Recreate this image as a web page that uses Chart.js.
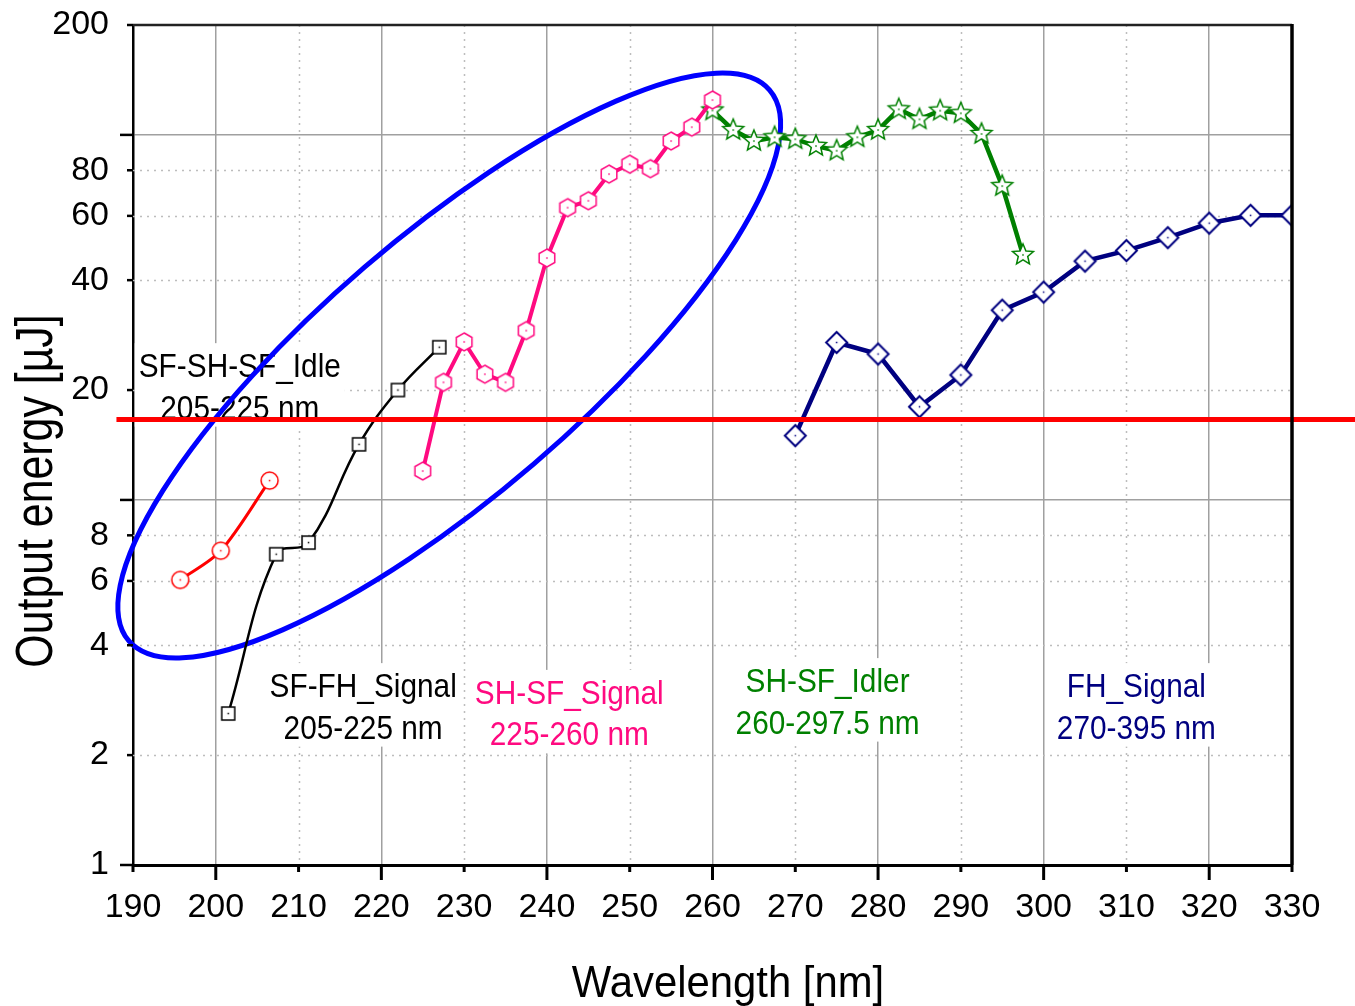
<!DOCTYPE html>
<html>
<head>
<meta charset="utf-8">
<script src="https://cdn.jsdelivr.net/npm/chart.js@4.4.0/dist/chart.umd.min.js"></script>
<style>
  html, body { margin: 0; padding: 0; background: #fff; }
  #wrap { width: 1355px; height: 1006px; position: relative; }
</style>
</head>
<body>
<div id="wrap"><canvas id="chart"></canvas></div>
<script>
// wavelength in nm, output energy in µJ
const idleX = [195.7, 200.6, 206.5];
const idleY = [6.04, 7.26, 11.3];

const fhSfX = [201.5, 207.3, 211.2, 217.3, 222.0, 227.0];
const fhSfY = [2.6, 7.1, 7.64, 14.2, 20.0, 26.2];

const shSignalX = [225, 227.5, 230, 232.5, 235, 237.5, 240, 242.5, 245, 247.5, 250, 252.5, 255, 257.5, 260];
const shSignalY = [12.0, 21.0, 27.1, 22.1, 21.0, 29.1, 46.0, 63.2, 66.0, 78.1, 83.1, 80.8, 96.2, 105, 124.6];

const shIdlerX = [260, 262.5, 265, 267.5, 270, 272.5, 275, 277.5, 280, 282.5, 285, 287.5, 290, 292.5, 295, 297.5];
const shIdlerY = [116.7, 103.1, 96.2, 98.5, 97.3, 93.2, 90.5, 98.5, 103.1, 117.5, 110.3, 116.5, 114.6, 100.6, 72.4, 46.9];

const fhSignalX = [270, 275, 280, 285, 290, 295, 300, 305, 310, 315, 320, 325, 330];
const fhSignalY = [15.0, 27.0, 25.1, 18.0, 22.0, 33.1, 37.1, 45.1, 48.2, 52.3, 57.3, 60.2, 60.2];

// red threshold line
const limitX = [188, 338];
const limitY = [16.6, 16.6];

// blue ellipse: centre, end of major axis, end of minor axis (data units)
const ellipseCenter = [228.2, 23.35];
const ellipseMajorEnd = [266.9, 132.7];
const ellipseMinorEnd = [218.0, 43.5];

const yTicks = [1, 2, 4, 6, 8, 10, 20, 40, 60, 80, 100, 200];
const yTickLabels = ["1", "2", "4", "6", "8", "", "20", "40", "60", "80", "", "200"];
const yLongTicks = [1, 10, 100];
const ySolidGrid = [10, 100];
const yDottedGrid = [2, 4, 6, 8, 20, 40, 60, 80];
const xSolidGrid = [200, 220, 240, 260, 280, 300, 320];
const xDottedGrid = [210, 230, 250, 270, 290, 310];

const labelLines = [
  ["SF-SH-SF_Idle", "205-225 nm"],
  ["SF-FH_Signal", "205-225 nm"],
  ["SH-SF_Signal", "225-260 nm"],
  ["SH-SF_Idler", "260-297.5 nm"],
  ["FH_Signal", "270-395 nm"],
];
const labelAnchors = [[202.9, 23.4], [217.8, 3.11], [242.7, 2.98], [273.9, 3.21], [311.2, 3.11]];

const RED = "#ff0000";
const PINK = "#ff0a80";
const GREEN = "#008000";
const NAVY = "#000080";
const labelColors = ["#000", "#000", PINK, GREEN, NAVY];

const FONT = '"Liberation Sans", Arial, sans-serif';
const SQUEEZE = 0.89;
const LINE_GAP = 41.5;

function pts(xs, ys) {
  return xs.map((x, i) => ({ x, y: ys[i] }));
}

// hollow marker with a small dot in the middle
function makeMarker(shape, r, color, lw) {
  const size = Math.ceil(2 * r + lw + 4);
  const c = document.createElement("canvas");
  c.width = size;
  c.height = size;
  const g = c.getContext("2d");
  const m = size / 2;
  g.beginPath();
  if (shape === "circle") {
    g.arc(m, m, r, 0, Math.PI * 2);
  } else if (shape === "square") {
    g.rect(m - r, m - r, 2 * r, 2 * r);
  } else if (shape === "diamond") {
    g.moveTo(m, m - r);
    g.lineTo(m + r, m);
    g.lineTo(m, m + r);
    g.lineTo(m - r, m);
    g.closePath();
  } else if (shape === "hexagon") {
    for (let i = 0; i < 6; i++) {
      const a = -Math.PI / 2 + (i * Math.PI) / 3;
      const px = m + r * Math.cos(a), py = m + r * Math.sin(a);
      i ? g.lineTo(px, py) : g.moveTo(px, py);
    }
    g.closePath();
  } else if (shape === "star") {
    for (let i = 0; i < 10; i++) {
      const rr = i % 2 ? r * 0.45 : r;
      const a = -Math.PI / 2 + (i * Math.PI) / 5;
      const px = m + rr * Math.cos(a), py = m + rr * Math.sin(a);
      i ? g.lineTo(px, py) : g.moveTo(px, py);
    }
    g.closePath();
  }
  g.fillStyle = "#fff";
  g.fill();
  g.lineWidth = lw;
  g.strokeStyle = color;
  g.stroke();
  g.fillStyle = color;
  g.fillRect(m - 0.75, m - 0.75, 1.5, 1.5);
  return c;
}

function drawText(ctx, text, x, y, font, color, squeeze, rotate) {
  ctx.save();
  ctx.translate(x, y);
  if (rotate) ctx.rotate(rotate);
  ctx.scale(squeeze, 1);
  ctx.font = font;
  ctx.fillStyle = color;
  ctx.textAlign = "center";
  ctx.textBaseline = "alphabetic";
  ctx.fillText(text, 0, 0);
  ctx.restore();
}

const overlay = {
  id: "overlay",
  beforeDatasetsDraw(chart) {
    const { ctx, chartArea: a } = chart;
    const xs = chart.scales.x, ys = chart.scales.y;

    // dotted grid
    ctx.save();
    ctx.strokeStyle = "#bdbdbd";
    ctx.lineWidth = 1.5;
    ctx.setLineDash([2, 5]);
    yDottedGrid.forEach((v) => {
      const p = Math.round(ys.getPixelForValue(v)) + 0.5;
      ctx.beginPath();
      ctx.moveTo(a.left, p);
      ctx.lineTo(a.right, p);
      ctx.stroke();
    });
    xDottedGrid.forEach((v) => {
      const p = Math.round(xs.getPixelForValue(v)) + 0.5;
      ctx.beginPath();
      ctx.moveTo(p, a.top);
      ctx.lineTo(p, a.bottom);
      ctx.stroke();
    });
    ctx.restore();

    // series labels on white boxes
    const font = "33.5px " + FONT;
    labelLines.forEach((lines, k) => {
      const cx = xs.getPixelForValue(labelAnchors[k][0]);
      const cy = ys.getPixelForValue(labelAnchors[k][1]);
      ctx.save();
      ctx.font = font;
      const w = Math.max(...lines.map((t) => ctx.measureText(t).width)) * SQUEEZE + 8;
      const top = cy - 22;
      const bottom = cy + (lines.length - 1) * LINE_GAP + 20;
      ctx.fillStyle = "#fff";
      ctx.fillRect(cx - w / 2, top, w, bottom - top);
      ctx.restore();
      lines.forEach((t, i) => {
        drawText(ctx, t, cx, cy + i * LINE_GAP + 12, font, labelColors[k], SQUEEZE, 0);
      });
    });

    // blue ellipse
    const c = [xs.getPixelForValue(ellipseCenter[0]), ys.getPixelForValue(ellipseCenter[1])];
    const ma = [xs.getPixelForValue(ellipseMajorEnd[0]), ys.getPixelForValue(ellipseMajorEnd[1])];
    const mi = [xs.getPixelForValue(ellipseMinorEnd[0]), ys.getPixelForValue(ellipseMinorEnd[1])];
    const ra = Math.hypot(ma[0] - c[0], ma[1] - c[1]);
    const rb = Math.hypot(mi[0] - c[0], mi[1] - c[1]);
    const rot = Math.atan2(ma[1] - c[1], ma[0] - c[0]);
    ctx.save();
    ctx.beginPath();
    ctx.ellipse(c[0], c[1], ra, rb, rot, 0, Math.PI * 2);
    ctx.strokeStyle = "#0000ff";
    ctx.lineWidth = 5;
    ctx.stroke();
    ctx.restore();
  },
  afterDraw(chart) {
    const { ctx, chartArea: a } = chart;
    const xs = chart.scales.x, ys = chart.scales.y;
    ctx.save();
    // top and right frame
    ctx.strokeStyle = "#222";
    ctx.lineWidth = 2.5;
    ctx.beginPath();
    ctx.moveTo(a.left, a.top);
    ctx.lineTo(a.right, a.top);
    ctx.stroke();
    ctx.strokeStyle = "#000";
    ctx.lineWidth = 3.5;
    ctx.beginPath();
    ctx.moveTo(a.right, a.top - 1);
    ctx.lineTo(a.right, a.bottom);
    ctx.stroke();

    // tick marks
    ctx.lineWidth = 2.5;
    yTicks.forEach((v) => {
      const p = ys.getPixelForValue(v);
      const len = yLongTicks.includes(v) ? 13 : 6;
      ctx.beginPath();
      ctx.moveTo(a.left - len, p);
      ctx.lineTo(a.left, p);
      ctx.stroke();
    });
    ctx.lineWidth = 3;
    for (let v = 190; v <= 330; v += 10) {
      const p = xs.getPixelForValue(v);
      const len = xSolidGrid.includes(v) ? 15 : 7;
      ctx.beginPath();
      ctx.moveTo(p, a.bottom);
      ctx.lineTo(p, a.bottom + len);
      ctx.stroke();
    }
    ctx.restore();

    // axis titles
    drawText(ctx, "Wavelength [nm]", 728, 997, "45px " + FONT, "#000", 0.93, 0);
    drawText(ctx, "Output energy [\u00b5J]", 52, 491, "51px " + FONT, "#000", 0.84, -Math.PI / 2);
  },
};

const ctx = document.getElementById("chart").getContext("2d");

new Chart(ctx, {
  type: "line",
  data: {
    datasets: [
      {
        label: "threshold",
        data: pts(limitX, limitY),
        borderColor: RED,
        borderWidth: 5,
        pointRadius: 0,
        clip: false,
        order: 0,
      },
      {
        label: "SF-SH-SF_Idle",
        data: pts(idleX, idleY),
        borderColor: RED,
        borderWidth: 3,
        tension: 0.3,
        pointStyle: makeMarker("circle", 8.5, RED, 1.5),
        order: 1,
      },
      {
        label: "SF-FH_Signal",
        data: pts(fhSfX, fhSfY),
        borderColor: "#000",
        borderWidth: 2.5,
        tension: 0.4,
        pointStyle: makeMarker("square", 6.5, "#000", 1.5),
        order: 2,
      },
      {
        label: "SH-SF_Signal",
        data: pts(shSignalX, shSignalY),
        borderColor: PINK,
        borderWidth: 4,
        pointStyle: makeMarker("hexagon", 9, PINK, 1.5),
        order: 3,
      },
      {
        label: "SH-SF_Idler",
        data: pts(shIdlerX, shIdlerY),
        borderColor: GREEN,
        borderWidth: 4.5,
        pointStyle: makeMarker("star", 11, GREEN, 1.5),
        order: 4,
      },
      {
        label: "FH_Signal",
        data: pts(fhSignalX, fhSignalY),
        borderColor: NAVY,
        borderWidth: 4.5,
        pointStyle: makeMarker("diamond", 10.5, NAVY, 2),
        order: 5,
      },
    ],
  },
  options: {
    responsive: true,
    maintainAspectRatio: false,
    animation: false,
    layout: { padding: { left: 0, top: 25, right: 63, bottom: 0 } },
    plugins: { legend: { display: false }, tooltip: { enabled: false } },
    scales: {
      x: {
        type: "linear",
        min: 190,
        max: 330,
        afterFit: (s) => {
          s.height = 141;
          s.paddingLeft = 0;
          s.paddingRight = 0;
        },
        ticks: {
          stepSize: 10,
          autoSkip: false,
          maxRotation: 0,
          padding: 22,
          color: "#000",
          font: { family: FONT, size: 34 },
        },
        grid: {
          drawTicks: false,
          lineWidth: 1.5,
          color: (c) => (c.tick && xSolidGrid.includes(c.tick.value) ? "#a0a0a0" : "rgba(0,0,0,0)"),
        },
        border: { display: true, color: "#000", width: 3 },
      },
      y: {
        type: "logarithmic",
        min: 1,
        max: 200,
        afterFit: (s) => {
          s.width = 133;
          s.paddingTop = 0;
          s.paddingBottom = 0;
        },
        afterBuildTicks: (s) => {
          s.ticks = yTicks.map((v) => ({ value: v }));
        },
        ticks: {
          autoSkip: false,
          padding: 24,
          color: "#000",
          font: { family: FONT, size: 34 },
          callback: (v, i) => yTickLabels[i],
        },
        grid: {
          drawTicks: false,
          lineWidth: 1.5,
          color: (c) => (c.tick && ySolidGrid.includes(c.tick.value) ? "#a0a0a0" : "rgba(0,0,0,0)"),
        },
        border: { display: true, color: "#000", width: 2.5 },
      },
    },
  },
  plugins: [overlay],
});
</script>
</body>
</html>
